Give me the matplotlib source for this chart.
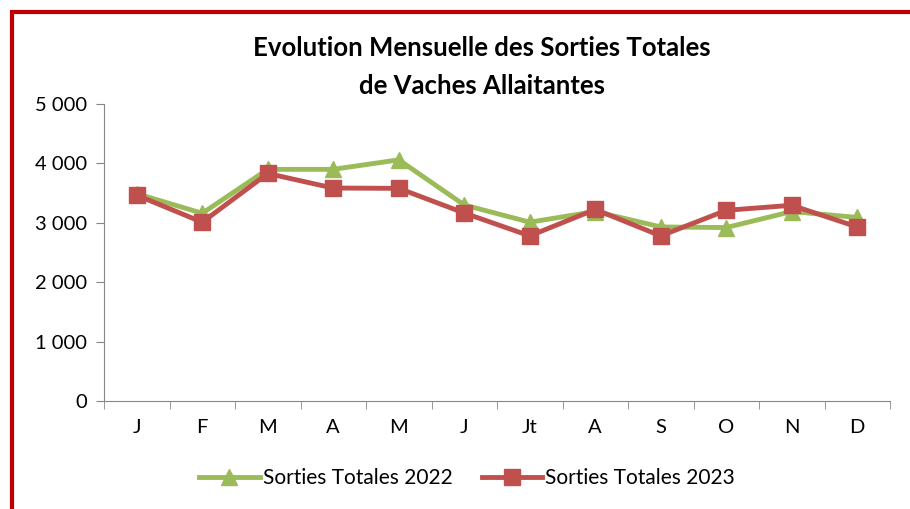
import numpy as np
import matplotlib.pyplot as plt
from matplotlib.patches import Rectangle
from matplotlib.ticker import FuncFormatter

plt.rcParams['font.family'] = ['Lato', 'DejaVu Sans']

# Données
mois = ['J', 'F', 'M', 'A', 'M', 'J', 'Jt', 'A', 'S', 'O', 'N', 'D']
sorties_2022 = [3490, 3160, 3900, 3900, 4060, 3300, 3010, 3190, 2930, 2920, 3190, 3090]
sorties_2023 = [3465, 3010, 3830, 3585, 3580, 3165, 2780, 3225, 2780, 3210, 3295, 2930]

vert = '#9BBB59'
rouge = '#C0504D'

fig = plt.figure(figsize=(9.1, 5.09), dpi=100)
ax = fig.add_axes([104 / 910, 1 - 401 / 509, (890 - 104) / 910, (401 - 104) / 509])

x = np.arange(len(mois))
ax.plot(x, sorties_2022, color=vert, lw=3.5, marker='^', ms=12, label='Sorties Totales 2022')
ax.plot(x, sorties_2023, color=rouge, lw=3.5, marker='s', ms=11, label='Sorties Totales 2023')

ax.set_xlim(-0.5, len(mois) - 0.5)
ax.set_ylim(0, 5000)
ax.set_yticks(range(0, 5001, 1000))
ax.yaxis.set_major_formatter(FuncFormatter(lambda v, p: f'{int(v):,}'.replace(',', ' ')))
ax.set_xticks(x)
ax.set_xticklabels(mois)
ax.set_xticks(np.arange(-0.5, len(mois)), minor=True)
ax.tick_params(axis='x', which='major', length=0, pad=13, labelsize=14.5)
ax.tick_params(axis='x', which='minor', length=6, color='#868686')
ax.tick_params(axis='y', length=6, color='#868686', labelsize=14.5, pad=6)

for s in ['top', 'right']:
    ax.spines[s].set_visible(False)
for s in ['left', 'bottom']:
    ax.spines[s].set_color('#868686')

fig.text(482 / 910, 1 - 67 / 509, 'Evolution Mensuelle des Sorties Totales\nde Vaches Allaitantes',
         ha='center', va='center', fontsize=18.5, fontweight='bold', linespacing=1.7)

fig.legend(loc='center', bbox_to_anchor=(467 / 910, 1 - 478 / 509), ncol=2, frameon=False,
           fontsize=15, handlelength=2.9, handletextpad=0.15, columnspacing=1.4)

# cadre rouge
fig.patches.append(Rectangle((11.5 / 910, -0.2), 1.2, 1.2 - 11.5 / 509,
                             transform=fig.transFigure, fill=False, ec='#C00000', lw=3,
                             clip_on=False))

fig.savefig('out.png', dpi=100)
